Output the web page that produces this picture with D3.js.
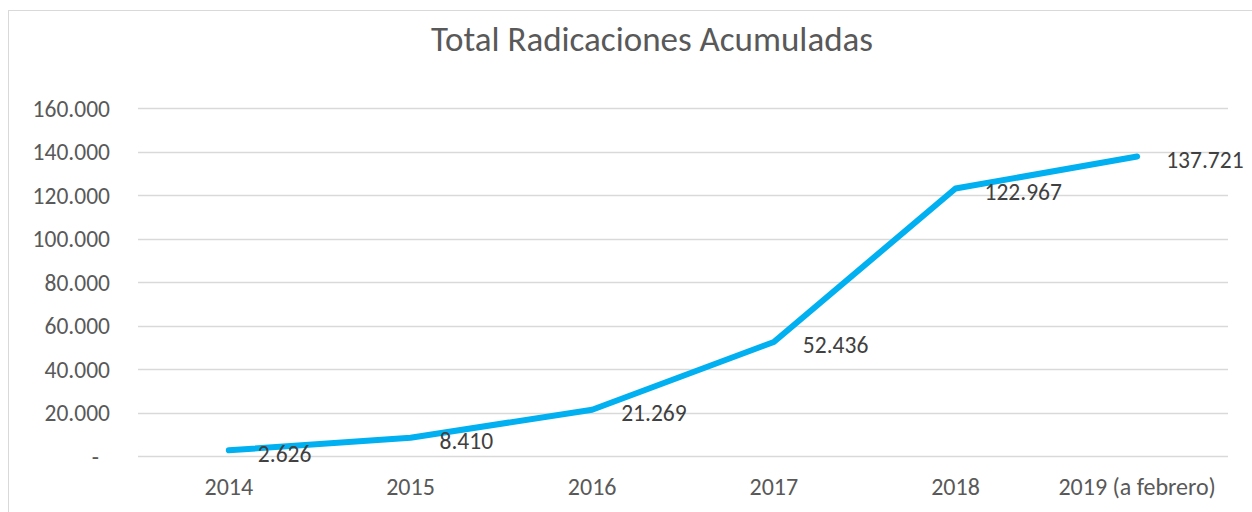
<!DOCTYPE html>
<html>
<head>
<meta charset="utf-8">
<script src="https://cdn.jsdelivr.net/npm/d3@7"></script>
<style>
  body { margin: 0; background: #fff; }
  text { font-family: Carlito, Calibri, "Open Sans", sans-serif; fill: #595959; }
</style>
</head>
<body>
<script>
// chart data
var years = ["2014", "2015", "2016", "2017", "2018", "2019 (a febrero)"];
var values = [2626, 8410, 21269, 52436, 122967, 137721];
var yTicks = [0, 20000, 40000, 60000, 80000, 100000, 120000, 140000, 160000];

var W = 1252, H = 512;
var margin = {top: 108, right: 24, bottom: 56, left: 138};
var width = W - margin.left - margin.right;   // 1090
var height = H - margin.top - margin.bottom;  // 348

var svg = d3.select("body").append("svg")
    .attr("width", W)
    .attr("height", H);

// chart border
svg.append("rect")
    .attr("x", 8.5).attr("y", 10.5)
    .attr("width", W + 10).attr("height", H + 10)
    .attr("fill", "none")
    .attr("stroke", "#d9d9d9")
    .attr("stroke-width", 1);

svg.append("text")
    .attr("x", 652)
    .attr("y", 51)
    .attr("text-anchor", "middle")
    .style("font-size", "35px")
    .text("Total Radicaciones Acumuladas");

var g = svg.append("g")
    .attr("transform", "translate(" + margin.left + "," + margin.top + ")");

var x = d3.scaleBand().domain(years).range([0, width]);
var y = d3.scaleLinear().domain([0, 160000]).range([height, 0]);

// number format with dot as thousands separator
var fmt = function(v) {
  if (v === 0) return "-";
  return d3.format(",")(v).replace(/,/g, ".");
};

// gridlines
g.selectAll(".grid")
    .data(yTicks)
  .enter().append("line")
    .attr("class", "grid")
    .attr("x1", 0).attr("x2", width)
    .attr("y1", function(d) { return Math.round(y(d)) + 0.5; })
    .attr("y2", function(d) { return Math.round(y(d)) + 0.5; })
    .attr("stroke", "#d9d9d9")
    .attr("stroke-width", 1.5);

// y axis labels
var yAxis = d3.axisLeft(y).tickValues(yTicks).tickSize(0).tickPadding(28).tickFormat(fmt);
g.append("g").call(yAxis)
    .call(function(s) { s.select(".domain").remove(); })
    .selectAll("text")
    .style("font-size", "23.5px")
    .attr("dy", "0.35em")
    .attr("dx", function(d) { return d === 0 ? -11 : 0; });

// x axis labels
var xAxis = d3.axisBottom(x).tickSize(0).tickPadding(22);
g.append("g")
    .attr("transform", "translate(0," + height + ")")
    .call(xAxis)
    .call(function(s) { s.select(".domain").remove(); })
    .selectAll("text")
    .style("font-size", "24px");

// line
var line = d3.line()
    .x(function(d, i) { return x(years[i]) + x.bandwidth() / 2; })
    .y(function(d) { return y(d); });

g.append("path")
    .datum(values)
    .attr("d", line)
    .attr("fill", "none")
    .attr("stroke", "#00b0f0")
    .attr("stroke-width", 6)
    .attr("stroke-linecap", "round")
    .attr("stroke-linejoin", "round");

// data labels
g.selectAll(".lbl")
    .data(values)
  .enter().append("text")
    .attr("class", "lbl")
    .attr("x", function(d, i) { return x(years[i]) + x.bandwidth() / 2 + 29; })
    .attr("y", function(d) { return y(d) + 3; })
    .attr("dy", "0.35em")
    .style("font-size", "23.5px")
    .style("fill", "#404040")
    .text(fmt);
</script>
</body>
</html>
